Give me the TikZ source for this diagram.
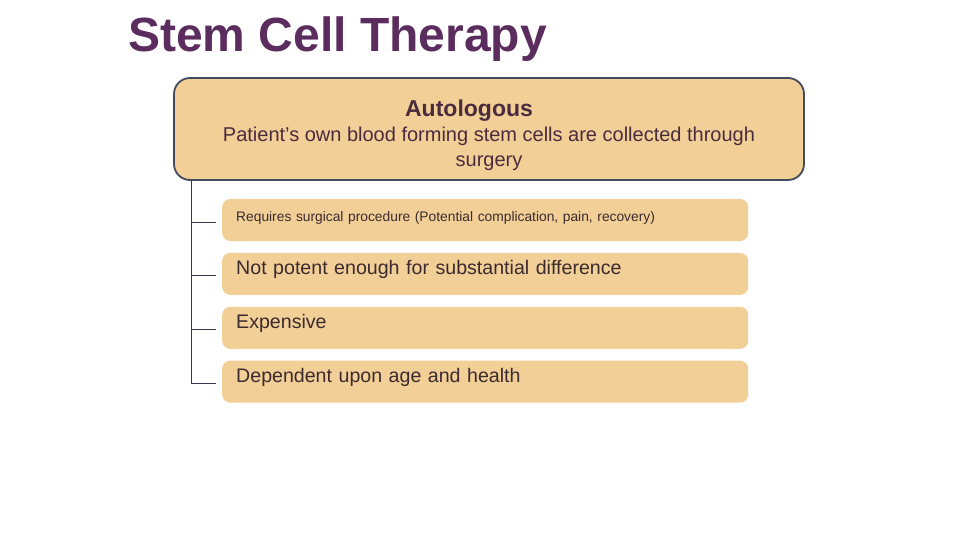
\documentclass[tikz,border=0pt]{standalone}
\usepackage{fontspec}
\setmainfont{Liberation Sans}
\usetikzlibrary{positioning}

\definecolor{titlepurple}{HTML}{5B2C5E}
\definecolor{peach}{HTML}{F2CF97}
\definecolor{boxrim}{HTML}{434B5E}
\definecolor{toptext}{HTML}{4B2B3E}
\definecolor{itemtext}{HTML}{3B2A2E}
\definecolor{branchline}{HTML}{3A3550}

\tikzset{
  topbox/.style={draw=boxrim, line width=1.8pt, fill=peach, rounded corners=16pt,
    minimum width=630pt, minimum height=102pt, align=center, text=toptext,
    font=\fontsize{20}{25}\selectfont},
  itembox/.style={fill=peach, rounded corners=8pt, minimum height=42pt,
    text width=498pt, inner xsep=14pt, inner ysep=0pt, align=left, text=itemtext,
    text height=14.5pt, text depth=12.5pt, font=\fontsize{19.6}{24}\selectfont},
  branch/.style={draw=branchline, line width=1pt, shorten >=6pt}
}

\begin{document}
\begin{tikzpicture}[x=1pt, y=-1pt, node distance=11.5pt]
  \useasboundingbox (0,0) rectangle (960,540);

  \node [anchor=base west, text=titlepurple, inner sep=0pt,
    font=\fontsize{48}{56}\selectfont\bfseries] (title) at (128,52) {Stem Cell Therapy};

  \node [topbox] (autologous) at (489,129)
    {\rule{0pt}{30pt}{\fontsize{23}{25}\selectfont\bfseries Autologous}\hspace*{40pt}\\
     Patient’s own blood forming stem cells are collected through\\
     surgery};

  \node [itembox, anchor=west, font=\fontsize{13.8}{16}\selectfont,
    text height=10pt, text depth=8pt] (surgical) at (222,220)
    {Requires surgical procedure (Potential complication, pain, recovery)};
  \node [itembox, below=of surgical] (potent) {Not potent enough for substantial difference};
  \node [itembox, below=of potent] (expensive) {Expensive};
  \node [itembox, below=of expensive] (dependent) {Dependent upon age and health};

  \coordinate (trunk) at ([xshift=18pt]autologous.south west);
  \foreach \n in {surgical,potent,expensive,dependent}
    \draw [branch] (trunk) |- ([yshift=-2pt]\n.west);
\end{tikzpicture}
\end{document}
